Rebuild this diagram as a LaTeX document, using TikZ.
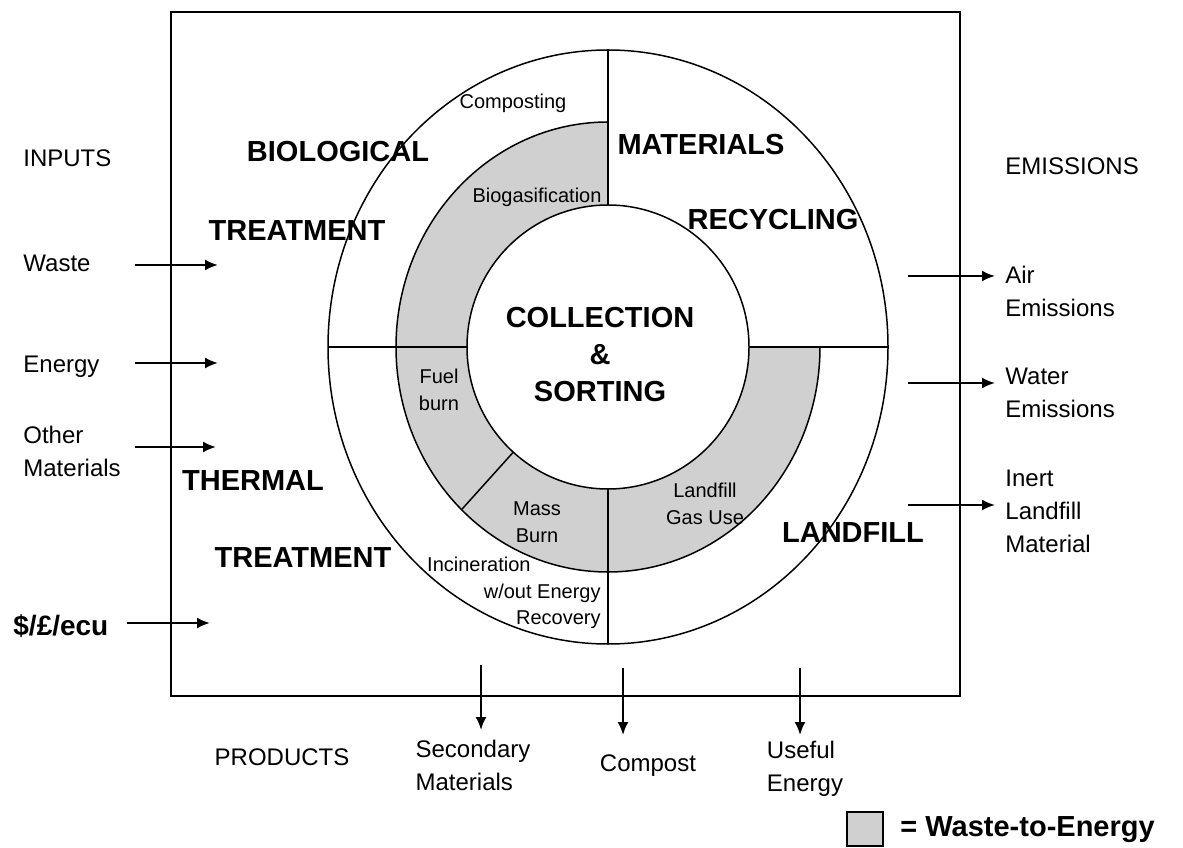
\documentclass[tikz,border=0pt]{standalone}
\usepackage{fontspec}
\setmainfont{Liberation Sans}
\usepackage{tikz}
\usetikzlibrary{arrows.meta,calc,shapes.geometric}
\definecolor{WTEgray}{RGB}{208,208,208}
\tikzset{
  sw/big/.style={font=\bfseries\fontsize{14.5}{18.5}\selectfont, inner sep=0pt, align=center},
  sw/plain/.style={font=\fontsize{12}{16.5}\selectfont, inner sep=0pt, align=left},
  sw/small/.style={font=\fontsize{10}{13.3}\selectfont, inner sep=0pt, align=center},
  sw/ring/.style={line width=0.75pt},
  sw/frame/.style={line width=1pt},
  sw/disc/.style={draw, ellipse, line width=0.75pt, inner sep=0pt, outer sep=0pt},
  sw/key/.style={draw, fill=WTEgray, line width=0.75pt, minimum width=18pt, minimum height=17pt, inner sep=0pt},
  arr/.style={-{Latex[length=6.5pt,width=5.5pt]}, line width=1pt}
}

\begin{document}
\begin{tikzpicture}[x=0.5pt,y=0.5pt]
\useasboundingbox (0,0) rectangle (1183,847);
\draw[sw/frame] (171,151) rectangle (960,835);

% rings
\coordinate (c) at (608,500);
\fill[WTEgray] (c) -- ++(0,112.5pt) arc[start angle=90, end angle=360, x radius=106pt, y radius=112.5pt] -- cycle;
\draw[sw/ring] ($(c)+(0,112.5pt)$) arc[start angle=90, end angle=360, x radius=106pt, y radius=112.5pt];
\node[sw/disc, fill=white, minimum width=141pt, minimum height=142pt] (hub) at (c) {};
\node[sw/disc, minimum width=280pt, minimum height=297pt] (outer) at (c) {};
\node[ellipse, inner sep=0pt, outer sep=0pt, minimum width=212pt, minimum height=225pt] (wtering) at (c) {};
\draw[sw/ring] (outer.north) -- (hub.north);
\draw[sw/ring] (outer.west) -- (hub.west);
\draw[sw/ring] (hub.east) -- (outer.east);
\draw[sw/ring] (hub.south) -- (outer.south);
\draw[sw/ring] (hub.228) -- (wtering.228);

% sector names
\node[sw/big] (bio) at (338,695) {BIOLOGICAL};
\node[sw/big] (biotr) at (297,616) {TREATMENT};
\node[sw/big] (mat) at (701,702) {MATERIALS};
\node[sw/big] (recyc) at (773,627) {RECYCLING};
\node[sw/big] (therm) at (253,366) {THERMAL};
\node[sw/big] (thermtr) at (303,289) {TREATMENT};
\node[sw/big] (landf) at (853,314) {LANDFILL};
\node[sw/big] (collect) at (600,492) {COLLECTION\\\&\\SORTING};

% options
\node[sw/small] (compo) at (513,744) {Composting};
\node[sw/small] (biogas) at (537,650) {Biogasification};
\node[sw/small] (fuel) at (439,457) {Fuel\\burn};
\node[sw/small] (mass) at (537,325) {Mass\\Burn};
\node[sw/small] (lfgas) at (705,343) {Landfill\\Gas Use};
\node[sw/small, align=right, anchor=east] (incin) at (601,254) {Incineration\rule{35pt}{0pt}\\w/out Energy\\Recovery};

% inputs
\node[sw/plain, anchor=west] (inputs) at (23,689) {INPUTS};
\node[sw/plain, anchor=west] (waste) at (23,584) {Waste};
\node[sw/plain, anchor=west] (energy) at (23,480) {Energy};
\node[sw/plain, anchor=west] (other) at (23,396) {Other\\Materials};
\node[sw/plain, anchor=west, font=\bfseries\fontsize{14}{16}\selectfont] (money) at (13,221) {\$/£/ecu};
\coordinate (waste-a) at (135,582);  \coordinate (waste-b) at (218,582);
\coordinate (energy-a) at (135,484); \coordinate (energy-b) at (218,484);
\coordinate (other-a) at (135,400);  \coordinate (other-b) at (216,400);
\coordinate (money-a) at (127,224);  \coordinate (money-b) at (210,224);
\draw[arr] (waste-a) -- (waste-b);
\draw[arr] (energy-a) -- (energy-b);
\draw[arr] (other-a) -- (other-b);
\draw[arr] (money-a) -- (money-b);

% emissions
\node[sw/plain, anchor=west] (emis) at (1005,681) {EMISSIONS};
\node[sw/plain, anchor=west] (air) at (1005,556) {Air\\Emissions};
\node[sw/plain, anchor=west] (water) at (1005,454) {Water\\Emissions};
\node[sw/plain, anchor=west] (inert) at (1005,336) {Inert\\Landfill\\Material};
\coordinate (air-a) at (908,571);   \coordinate (air-b) at (995,571);
\coordinate (water-a) at (908,464); \coordinate (water-b) at (995,464);
\coordinate (inert-a) at (908,342); \coordinate (inert-b) at (995,342);
\draw[arr] (air-a) -- (air-b);
\draw[arr] (water-a) -- (water-b);
\draw[arr] (inert-a) -- (inert-b);

% products
\node[sw/plain] (prod) at (282,90) {PRODUCTS};
\node[sw/plain] (second) at (473,82) {Secondary\\Materials};
\node[sw/plain] (compost) at (648,81) {Compost};
\node[sw/plain] (useful) at (805,78) {Useful\\Energy};
\coordinate (second-a) at (481,182);  \coordinate (second-b) at (481,117);
\coordinate (compost-a) at (623,179); \coordinate (compost-b) at (623,112);
\coordinate (useful-a) at (800,179);  \coordinate (useful-b) at (800,112);
\draw[arr] (second-a) -- (second-b);
\draw[arr] (compost-a) -- (compost-b);
\draw[arr] (useful-a) -- (useful-b);

% key
\node[sw/key] (key) at (865,18) {};
\node[sw/big, anchor=west] (keytext) at (900,17) {= Waste-to-Energy};
\end{tikzpicture}
\end{document}
